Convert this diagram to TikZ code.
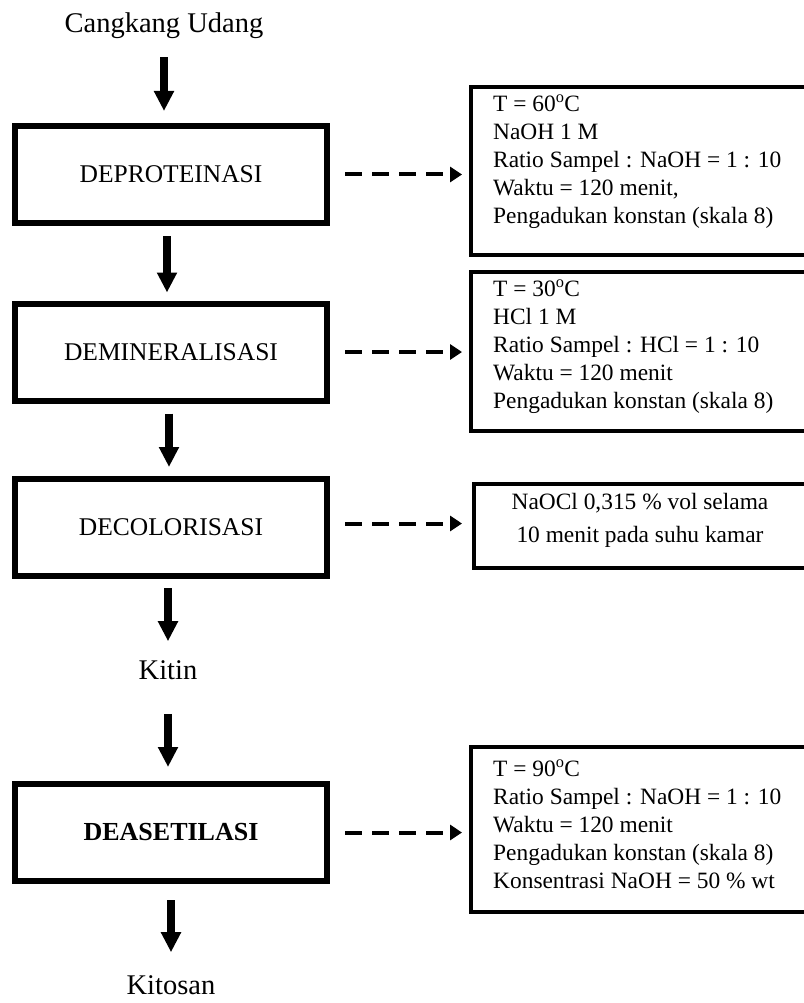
\documentclass[tikz,border=0pt]{standalone}
\usepackage{fontspec}
\setmainfont{Liberation Serif}
\usetikzlibrary{arrows.meta}
\begin{document}
\begin{tikzpicture}[x=1pt,y=-1pt,
  procbox/.style={draw, line width=6pt, minimum width=312pt, minimum height=97pt, inner sep=0pt, font=\fontsize{25.5}{28}\selectfont},
  condbox/.style={draw, line width=4pt, inner sep=0pt},
  condtext/.style={inner sep=0pt, align=left, anchor=north west, font=\fontsize{23.4}{28}\selectfont},
  bigtxt/.style={inner sep=0pt, font=\fontsize{28.5}{30}\selectfont},
  flow/.style={line width=7.3pt, -{Triangle[length=20pt,width=19pt]}},
  side/.style={line width=4pt, dash pattern=on 17pt off 10pt, -{Triangle[length=12pt,width=15pt]}},
]
\useasboundingbox (0,0) rectangle (803,1003);

% main column
\node[bigtxt] (cang) at (164,26) {Cangkang Udang};
\node[procbox] (b1) at (171,174.5) {\raisebox{-7pt}{DEPROTEINASI}};
\node[procbox] (b2) at (171,352) {\raisebox{-7pt}{DEMINERALISASI}};
\node[procbox] (b3) at (171,527.5) {\raisebox{-6pt}{DECOLORISASI}};
\node[bigtxt] (kitin) at (168,670) {Kitin};
\node[procbox, font=\fontsize{26}{28}\selectfont\bfseries] (b4) at (171,832.5) {\raisebox{-7pt}{DEASETILASI}};
\node[bigtxt] (kitosan) at (171,985) {Kitosan};

% condition boxes
\node[condbox, minimum width=337pt, minimum height=168pt] (r1) at (639.5,171) {};
\node[condtext] (t1) at ([xshift=24pt,yshift=-10pt]r1.north west)
  {T = 60\textsuperscript{o}C\\NaOH 1 M\\Ratio Sampel : NaOH = 1 : 10\\Waktu = 120 menit,\\Pengadukan konstan (skala 8)};

\node[condbox, minimum width=337pt, minimum height=159pt] (r2) at (639.5,351.5) {};
\node[condtext] (t2) at ([xshift=24pt,yshift=-10pt]r2.north west)
  {T = 30\textsuperscript{o}C\\HCl 1 M\\Ratio Sampel : HCl = 1 : 10\\Waktu = 120 menit\\Pengadukan konstan (skala 8)};

\node[condbox, minimum width=334pt, minimum height=84pt] (r3) at (641,526) {};
\node[inner sep=0pt, align=center, font=\fontsize{23.4}{33}\selectfont] (t3) at (640,520)
  {NaOCl 0,315 \% vol selama\\10 menit pada suhu kamar};

\node[condbox, minimum width=337pt, minimum height=165pt] (r4) at (639.5,829.5) {};
\node[condtext] (t4) at ([xshift=24pt,yshift=-15pt]r4.north west)
  {T = 90\textsuperscript{o}C\\Ratio Sampel : NaOH = 1 : 10\\Waktu = 120 menit\\Pengadukan konstan (skala 8)\\Konsentrasi NaOH = 50 \% wt};

% main flow arrows
\draw[flow, shorten <=18pt, shorten >=12pt] (cang.south) -- (cang.south |- b1.north);
\draw[flow, shorten <=10pt, shorten >=8pt] ([xshift=-4pt]b1.south) -- ([xshift=-4pt]b2.north);
\draw[flow, shorten <=10pt, shorten >=9pt] ([xshift=-2pt]b2.south) -- ([xshift=-2pt]b3.north);
\draw[flow, shorten <=9pt, shorten >=19pt] (kitin.north |- b3.south) -- (kitin.north);
\draw[flow, shorten <=34pt, shorten >=14pt] (kitin.south) -- (kitin.south |- b4.north);
\draw[flow, shorten <=16pt, shorten >=23pt] (kitosan.north |- b4.south) -- (kitosan.north);

% side arrows
\draw[side, shorten <=15pt, shorten >=7pt] (b1.east) -- (b1.east -| r1.west);
\draw[side, shorten <=15pt, shorten >=7pt] (b2.east) -- (b2.east -| r2.west);
\draw[side, shorten <=15pt, shorten >=10pt] ([yshift=4pt]b3.east) -- ([yshift=4pt]b3.east -| r3.west);
\draw[side, shorten <=15pt, shorten >=7pt] (b4.east) -- (b4.east -| r4.west);
\end{tikzpicture}
\end{document}
